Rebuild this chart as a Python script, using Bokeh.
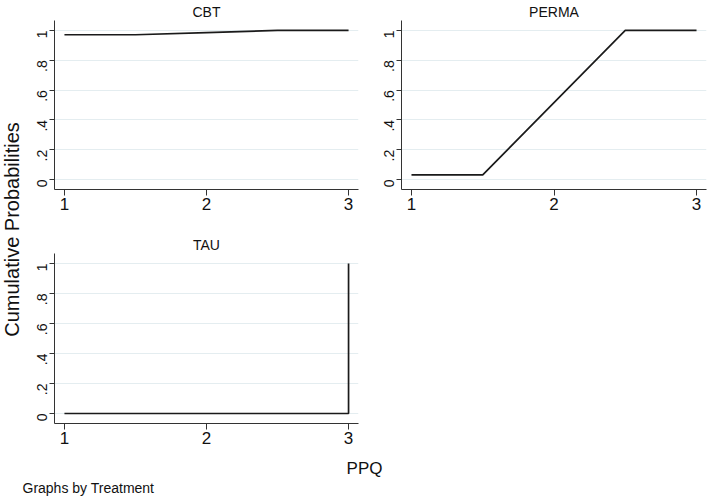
import math
from bokeh.plotting import figure
from bokeh.layouts import row, column
from bokeh.models import Range1d, FixedTicker, CustomJSTickFormatter, Label, ColumnDataSource
from bokeh.embed import file_html
from bokeh.resources import INLINE

# ---- data ----
ppq = [1, 1.5, 2, 2.5, 3]
cbt_cum = [0.971, 0.971, 0.986, 1.0, 1.0]
perma_cum = [0.031, 0.031, 0.516, 1.0, 1.0]
tau_ppq = [1, 1.5, 2, 2.5, 3, 3]
tau_cum = [0.0, 0.0, 0.0, 0.0, 0.0, 1.0]
panel_titles = ["CBT", "PERMA", "TAU"]
x_ticks = [1, 2, 3]
y_ticks = [0, 0.2, 0.4, 0.6, 0.8, 1.0]
y_tick_labels = ["0", ".2", ".4", ".6", ".8", "1"]
y_title = "Cumulative Probabilities"
x_title = "PPQ"
note = "Graphs by Treatment"

FONT = "Liberation Sans"
GRID = "#e4edf0"
AXIS = "#333333"


def panel(title, xs, ys, fw, fh, mbl, mbr, mbt, mbb):
    p = figure(frame_width=fw, frame_height=fh,
               x_range=Range1d(0.93, 3.07), y_range=Range1d(-0.0667, 1.0667),
               output_backend="svg", toolbar_location=None,
               min_border_left=mbl, min_border_right=mbr,
               min_border_top=mbt, min_border_bottom=mbb)
    p.outline_line_color = None
    p.background_fill_color = "white"
    p.border_fill_color = "white"
    p.title.text = title
    p.title.align = "center"
    p.title.text_font = FONT
    p.title.text_font_size = "14px"
    p.title.text_font_style = "normal"
    p.title.text_color = "#111111"
    p.title.standoff = 1
    p.title.offset = 0

    xa = p.xaxis[0]
    xa.ticker = FixedTicker(ticks=x_ticks)
    xa.major_label_text_font = FONT
    xa.major_label_text_font_size = "17px"
    xa.major_label_text_color = "#111111"
    xa.major_tick_out = 6
    xa.major_tick_in = 0
    xa.minor_tick_out = 0
    xa.minor_tick_in = 0
    xa.major_label_standoff = 2
    xa.axis_line_color = AXIS
    xa.major_tick_line_color = AXIS

    ya = p.yaxis[0]
    ya.ticker = FixedTicker(ticks=y_ticks)
    ya.formatter = CustomJSTickFormatter(
        args=dict(tvals=y_ticks, tlabels=y_tick_labels),
        code="for (let i = 0; i < tvals.length; i++) { if (Math.abs(tick - tvals[i]) < 1e-6) return tlabels[i]; } return '';")
    ya.major_label_orientation = math.pi / 2
    ya.major_label_text_font = FONT
    ya.major_label_text_font_size = "14px"
    ya.major_label_text_color = "#111111"
    ya.major_tick_out = 5
    ya.major_tick_in = 0
    ya.minor_tick_out = 0
    ya.minor_tick_in = 0
    ya.major_label_standoff = 7
    ya.axis_line_color = AXIS
    ya.major_tick_line_color = AXIS

    p.xgrid.visible = False
    p.ygrid.grid_line_color = GRID
    p.ygrid.grid_line_width = 1

    src = ColumnDataSource(dict(x=xs, y=ys))
    p.line(x="x", y="y", source=src, line_color="#1a1a1a", line_width=1.7)
    return p


def text_fig(w, h):
    f = figure(width=w, height=h, x_range=Range1d(0, w), y_range=Range1d(0, h),
               output_backend="svg", toolbar_location=None,
               min_border=0, min_border_left=0, min_border_right=0,
               min_border_top=0, min_border_bottom=0)
    f.axis.visible = False
    f.grid.visible = False
    f.outline_line_color = None
    f.border_fill_color = "white"
    f.background_fill_color = "white"
    return f


tl = panel(panel_titles[0], ppq, cbt_cum, 304, 169, 30, 14, 20, 45)
tr = panel(panel_titles[1], ppq, perma_cum, 305, 169, 29, 2, 20, 45)
bl = panel(panel_titles[2], tau_ppq, tau_cum, 304, 170, 30, 14, 19, 27)

ylab = text_fig(24, 450)
ylab.add_layout(Label(x=11, y=450 - 229, text=y_title, angle=math.pi / 2,
                      text_align="center", text_baseline="middle",
                      text_font=FONT, text_font_size="20px", text_color="#111111"))

foot = text_fig(708, 48)
foot.add_layout(Label(x=364, y=48 - 18, text=x_title, text_align="center",
                      text_baseline="middle", text_font=FONT,
                      text_font_size="17px", text_color="#111111"))
foot.add_layout(Label(x=22, y=48 - 37, text=note, text_align="left",
                      text_baseline="middle", text_font=FONT,
                      text_font_size="14px", text_color="#111111"))

layout = column(row(ylab, column(row(tl, tr), bl)), foot)

open("out.html", "w").write(file_html(layout, INLINE))
